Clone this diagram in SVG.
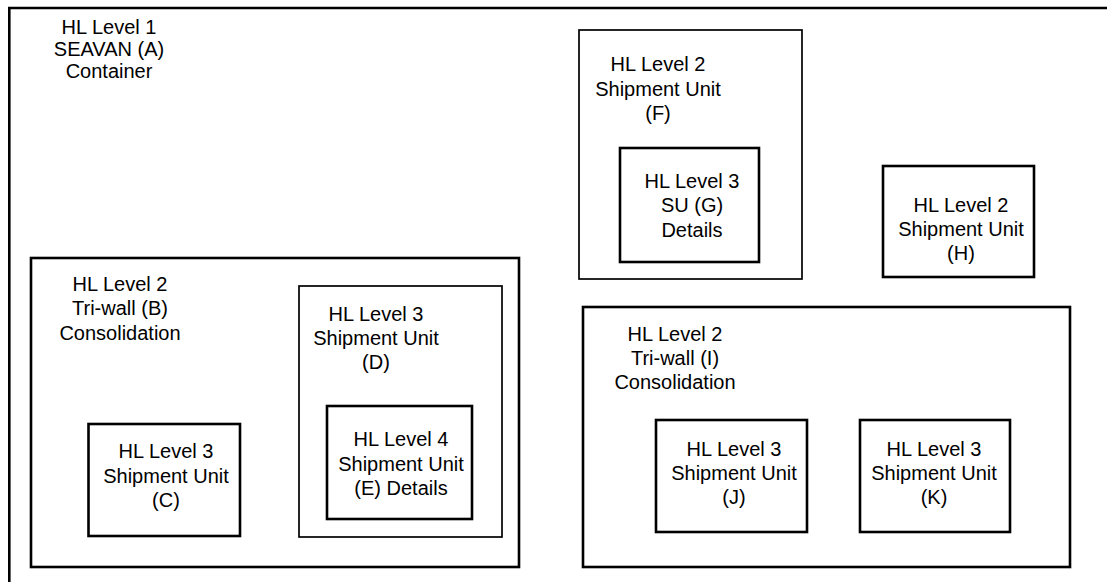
<svg xmlns="http://www.w3.org/2000/svg" width="1107" height="582" viewBox="0 0 1107 582">
<style>
.box{fill:none;stroke:#000;stroke-width:2.6}
.thin{fill:none;stroke:#000;stroke-width:1.7}
text{font-family:"Liberation Sans",Arial,sans-serif;font-size:20px;fill:#000;text-anchor:middle}
</style>
<rect width="1107" height="582" fill="#fff"/>
<g id="nodeA">
<path class="box" d="M9.3,582 V8 H1107"/>
<text x="109" y="34">HL Level 1</text>
<text x="109" y="56">SEAVAN (A)</text>
<text x="109" y="78">Container</text>
</g>
<g id="nodeB">
<rect class="box" x="31" y="258" width="488" height="309"/>
<text x="120" y="291">HL Level 2</text>
<text x="120" y="315">Tri-wall (B)</text>
<text x="120" y="340">Consolidation</text>
</g>
<g id="nodeC">
<rect class="box" x="88.5" y="424" width="151.5" height="112"/>
<text x="166" y="458">HL Level 3</text>
<text x="166" y="483">Shipment Unit</text>
<text x="166" y="507">(C)</text>
</g>
<g id="nodeD">
<rect class="thin" x="299" y="286" width="203" height="251"/>
<text x="376" y="321">HL Level 3</text>
<text x="376" y="345">Shipment Unit</text>
<text x="376" y="369">(D)</text>
</g>
<g id="nodeE">
<rect class="box" x="327" y="406" width="145" height="113"/>
<text x="401" y="446">HL Level 4</text>
<text x="401" y="471">Shipment Unit</text>
<text x="401" y="495">(E) Details</text>
</g>
<g id="nodeF">
<rect class="thin" x="579" y="30" width="223" height="249"/>
<text x="658" y="71">HL Level 2</text>
<text x="658" y="96">Shipment Unit</text>
<text x="658" y="120">(F)</text>
</g>
<g id="nodeG">
<rect class="box" x="620" y="148" width="139" height="114"/>
<text x="692" y="188">HL Level 3</text>
<text x="692" y="212">SU (G)</text>
<text x="692" y="237">Details</text>
</g>
<g id="nodeH">
<rect class="box" x="883" y="166" width="151" height="111"/>
<text x="961" y="212">HL Level 2</text>
<text x="961" y="236">Shipment Unit</text>
<text x="961" y="260">(H)</text>
</g>
<g id="nodeI">
<rect class="box" x="583" y="307" width="487" height="260"/>
<text x="675" y="341">HL Level 2</text>
<text x="675" y="365">Tri-wall (I)</text>
<text x="675" y="389">Consolidation</text>
</g>
<g id="nodeJ">
<rect class="box" x="656" y="420" width="151" height="112"/>
<text x="734" y="456">HL Level 3</text>
<text x="734" y="480">Shipment Unit</text>
<text x="734" y="504">(J)</text>
</g>
<g id="nodeK">
<rect class="box" x="860" y="420" width="150" height="112"/>
<text x="934" y="456">HL Level 3</text>
<text x="934" y="480">Shipment Unit</text>
<text x="934" y="504">(K)</text>
</g>
<g id="connectors"></g>
</svg>
